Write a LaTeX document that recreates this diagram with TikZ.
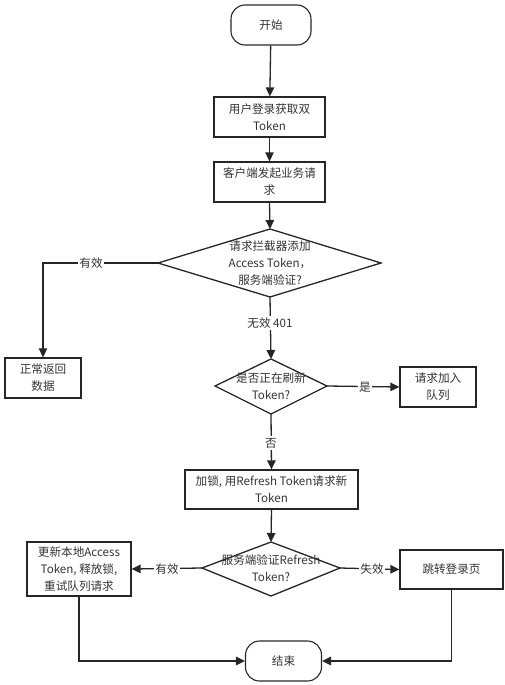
\documentclass[tikz,border=0pt]{standalone}
\usepackage{fontspec}
\newfontfamily\cjk{Noto Sans CJK SC}
\usetikzlibrary{shapes.geometric,arrows.meta}
\begin{document}
\begin{tikzpicture}[x=1pt,y=-1pt,
  every node/.style={font=\cjk\fontsize{11.6}{17}\selectfont, text=black!80},
  box/.style={draw=black!85, line width=1.3pt, minimum width=#1, align=center, inner sep=1pt},
  term/.style={draw=black!85, line width=1.1pt, rounded corners=14pt, minimum width=80, minimum height=40},
  lbl/.style={fill=white, inner sep=1.5pt},
  arr/.style={draw=black!85, line width=1.3pt, -{Triangle[length=9pt,width=8.5pt]}},
  ln/.style={draw=black!85, line width=1.3pt}]
\useasboundingbox (0,0) rectangle (504,685);
\node[term] (start) at (271,25) {开始};
\node[box=111, minimum height=40] (b1) at (269.5,117) {用户登录获取双\\Token};
\node[box=111, minimum height=40] (b2) at (269.5,182) {客户端发起业务请\\求};
\draw[ln] (270,229) -- (381,263) -- (270,297) -- (158,263) -- cycle;
\node[align=center] (d1) at (270,263) {请求拦截器添加\\Access Token，\\服务端验证?};
\coordinate (d1t) at (270,229); \coordinate (d1b) at (270,297); \coordinate (d1l) at (158,263);
\node[box=76, minimum height=40] (ok) at (43,378) {正常返回\\数据};
\draw[ln] (271,359) -- (327,386) -- (271,414) -- (215,386) -- cycle;
\node[align=center] (d2) at (271,386) {是否正在刷新\\Token?};
\coordinate (d2t) at (271,359); \coordinate (d2b) at (271,414); \coordinate (d2r) at (327,386);
\node[box=76, minimum height=40] (queue) at (438,387) {请求加入\\队列};
\node[box=173, minimum height=39] (b3) at (271.5,489.5) {加锁, 用Refresh Token请求新\\Token};
\draw[ln] (271,542) -- (340,568) -- (271,596) -- (202,568) -- cycle;
\node[align=center] (d3) at (271,568) {服务端验证Refresh\\Token?};
\coordinate (d3t) at (271,542); \coordinate (d3l) at (202,568); \coordinate (d3r) at (340,568);
\node[box=104, minimum height=54] (upd) at (79,569) {更新本地Access\\Token, 释放锁,\\重试队列请求};
\node[box=103, minimum height=39] (login) at (451.5,569.5) {跳转登录页};
\node[term, minimum width=76] (end) at (283.5,661) {结束};
% connectors
\draw[arr] (start) -- (b1);
\draw[arr] (b1) -- (b2);
\draw[arr] (b2.south) -- (d1t);
\draw[arr] (d1b) -- (d2t);
\node[lbl] (l401) at (270,323) {无效 401};
\draw[arr] (d1l) -- (43,263) -- (ok.north);
\node[lbl] (lyx) at (91,263) {有效};
\draw[arr] (d2r) -- (queue.west);
\node[lbl] (lshi) at (365,387) {是};
\draw[arr] (d2b) -- (b3.north);
\node[lbl] (lfou) at (271,443) {否};
\draw[arr] (b3.south) -- (d3t);
\draw[arr] (d3l) -- (upd.east);
\node[lbl] (lyx2) at (167,569) {有效};
\draw[arr] (d3r) -- (login.west);
\node[lbl] (lsx) at (372,569) {失效};
\draw[arr] (upd.south) -- (79,661) -- (end.west);
\draw[arr] (login.south) -- (451.5,661) -- (end.east);
\end{tikzpicture}
\end{document}
